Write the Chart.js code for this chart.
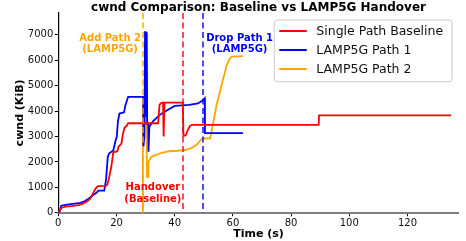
<!DOCTYPE html>
<html><head><meta charset="utf-8">
<script src="https://cdn.jsdelivr.net/npm/chart.js@4/dist/chart.umd.min.js"></script>
<style>html,body{margin:0;padding:0;background:#fff}#wrap{width:466px;height:241px}</style>
</head><body><div id="wrap"><canvas id="c" width="466" height="241"></canvas></div>
<script>
// ---- data ----
const baseTime = [0, 0.4, 1.2, 2.5, 5, 7, 8.5, 10, 11, 12, 12.8, 13.6, 16.3, 16.8, 17.3, 18.2, 18.9, 20.3, 20.7, 21.7, 22.2, 22.8, 23.5, 24.0, 34.3, 34.8, 35.5, 36.0, 36.2, 36.5, 42.8, 43.0, 43.8, 44.5, 45.3, 46.0, 89.5, 89.6, 135];
const baseCwnd = [0, 80, 200, 240, 270, 300, 360, 450, 560, 780, 950, 1050, 1060, 1100, 1300, 1800, 2380, 2420, 2600, 2720, 3100, 3350, 3420, 3520, 3520, 4250, 4330, 4330, 3000, 4330, 4330, 3020, 3050, 3250, 3420, 3460, 3460, 3830, 3830];

const p1Time = [0, 0.5, 1.0, 3, 5, 7.5, 9, 10.5, 12, 13.2, 13.8, 15.8, 16.4, 17.0, 17.5, 18.9, 19.6, 20.1, 20.5, 21.0, 22.6, 23.0, 24.0, 29.2, 29.25, 29.6, 29.8, 29.95, 30.1, 30.25, 30.4, 30.55, 30.9, 31.0, 31.3, 32.5, 34.9, 37.7, 40, 45, 48, 49.8, 50.3, 50.4, 63.5];
const p1Cwnd = [0, 60, 280, 320, 350, 390, 450, 560, 700, 800, 870, 870, 1300, 2200, 2340, 2450, 2800, 3000, 3600, 3900, 3950, 4200, 4560, 4560, 2600, 3000, 7140, 3800, 7140, 3800, 7100, 3500, 3500, 2400, 3380, 3600, 3850, 4050, 4200, 4240, 4300, 4430, 4500, 3130, 3130];

const p2Time = [29.0, 29.05, 29.3, 29.5, 29.7, 29.9, 30.2, 30.3, 30.4, 30.5, 30.6, 30.7, 30.8, 30.9, 31.0, 32, 35, 38, 41, 44, 46, 47.6, 49.3, 49.8, 52.2, 53.3, 54.4, 56.1, 57.9, 59, 59.6, 63.5];
const p2Cwnd = [0, 4300, 3900, 4400, 3800, 4300, 4000, 5800, 3000, 1400, 1900, 1400, 1800, 1420, 2000, 2200, 2340, 2420, 2440, 2470, 2560, 2680, 2900, 2920, 2930, 3580, 4240, 5020, 5810, 6070, 6136, 6160];

const xTicks = [0, 20, 40, 60, 80, 100, 120];
const yTicks = [0, 1000, 2000, 3000, 4000, 5000, 6000, 7000];
const seriesNames = ['Single Path Baseline', 'LAMP5G Path 1', 'LAMP5G Path 2'];
const seriesColors = ['#ff0000', '#0000ff', '#ffa500'];
const eventTimes = [29.0, 42.7, 49.7];
const eventColors = ['#ffa500', '#ff0000', '#0000ff'];
const eventLabels = [['Add Path 2', '(LAMP5G)'], ['Handover', '(Baseline)'], ['Drop Path 1', '(LAMP5G)']];
const chartTitle = 'cwnd Comparison: Baseline vs LAMP5G Handover';

const FONT = '"DejaVu Sans", sans-serif';
const pts = (t, v) => t.map((tt, i) => ({x: tt, y: v[i]}));

const overlay = {
  id: 'overlay',
  afterDatasetsDraw(chart, args, o) {
    const {ctx, chartArea: a, scales: {x, y}} = chart;
    ctx.save();
    // event lines (dashed, drawn as explicit dash segments)
    ctx.lineWidth = 2; ctx.lineCap = 'butt'; ctx.globalAlpha = 0.7;
    eventTimes.forEach((t, i) => {
      const px = Math.round(x.getPixelForValue(t)) + 0;
      ctx.strokeStyle = eventColors[i];
      ctx.beginPath();
      for (let yy = a.top; yy < a.bottom; yy += o.dash[0] + o.dash[1]) {
        ctx.moveTo(px, yy); ctx.lineTo(px, Math.min(yy + o.dash[0], a.bottom));
      }
      ctx.stroke();
    });
    ctx.globalAlpha = 1;
    // event notes
    ctx.font = 'bold 10px ' + FONT; ctx.textAlign = 'center'; ctx.textBaseline = 'middle';
    o.notes.forEach((n, i) => {
      const cx = x.getPixelForValue(n.t), cy = y.getPixelForValue(n.v);
      ctx.fillStyle = eventColors[i];
      const lines = eventLabels[i];
      lines.forEach((s, k) => ctx.fillText(s, cx, cy + (k - (lines.length - 1) / 2) * 11.5));
    });
    // legend
    const L = o.legend;
    const lx = a.right - L.right - L.w, ly = a.top + L.top;
    ctx.beginPath();
    if (ctx.roundRect) ctx.roundRect(lx, ly, L.w, L.h, 3); else ctx.rect(lx, ly, L.w, L.h);
    ctx.fillStyle = 'rgba(255,255,255,0.8)'; ctx.fill();
    ctx.strokeStyle = '#cccccc'; ctx.lineWidth = 1; ctx.stroke();
    ctx.font = '12.5px ' + FONT; ctx.textAlign = 'left'; ctx.textBaseline = 'middle';
    seriesNames.forEach((s, i) => {
      const ry = ly + L.row0 + i * L.rowGap;
      ctx.strokeStyle = seriesColors[i]; ctx.lineWidth = 2;
      ctx.beginPath(); ctx.moveTo(lx + 5, ry); ctx.lineTo(lx + 32.5, ry); ctx.stroke();
      ctx.fillStyle = '#111'; ctx.fillText(s, lx + 42, ry + 0.5);
    });
    // title
    ctx.font = 'bold 12px ' + FONT; ctx.textAlign = 'center'; ctx.textBaseline = 'alphabetic';
    ctx.fillStyle = '#000';
    ctx.fillText(chartTitle, (a.left + a.right) / 2, a.top - o.titleGap);
    ctx.restore();
  }
};

new Chart(document.getElementById('c'), {
  type: 'line',
  data: {
    datasets: [
      {label: seriesNames[0], data: pts(baseTime, baseCwnd), borderColor: seriesColors[0]},
      {label: seriesNames[1], data: pts(p1Time, p1Cwnd), borderColor: seriesColors[1]},
      {label: seriesNames[2], data: pts(p2Time, p2Cwnd), borderColor: seriesColors[2]}
    ]
  },
  options: {
    responsive: false, animation: false,
    datasets: {line: {borderWidth: 1.8, pointRadius: 0, tension: 0, fill: false}},
    layout: {padding: {left: 0, right: 7.3, top: 13, bottom: 0}},
    plugins: {
      legend: {display: false}, tooltip: {enabled: false}, title: {display: false},
      overlay: {
        notes: [{t: 17.8, v: 6635}, {t: 32.5, v: 770}, {t: 62.3, v: 6635}],
        legend: {right: 6.7, top: 7, w: 177.7, h: 61.7, row0: 11, rowGap: 19},
        titleGap: 2.3,
        dash: [6, 3.5]
      }
    },
    scales: {
      x: {type: 'linear', min: 0, max: 137.6,
        afterBuildTicks: s => { s.ticks = xTicks.map(v => ({value: v})); },
        afterFit: s => { s.height = 28.2; },
        ticks: {font: {family: FONT, size: 10}, color: '#111', padding: 1, maxRotation: 0, callback: v => String(v)},
        grid: {display: true, drawOnChartArea: false, drawTicks: true, tickLength: 3.5, color: '#000', tickWidth: 1},
        border: {display: true, color: '#808080', width: 2},
        title: {display: true, text: 'Time (s)', color: '#000', font: {family: FONT, size: 11, weight: 'bold', lineHeight: 1.2}, padding: {top: 0, bottom: 0}}
      },
      y: {min: 0, max: 7854,
        afterBuildTicks: s => { s.ticks = yTicks.map(v => ({value: v})); },
        afterFit: s => { s.width = 58.3; },
        ticks: {font: {family: FONT, size: 10}, color: '#111', padding: 1.5, callback: v => String(v)},
        grid: {display: true, drawOnChartArea: false, drawTicks: true, tickLength: 3.5, color: '#000', tickWidth: 1},
        border: {display: true, color: '#000', width: 1.2},
        title: {display: true, text: 'cwnd (KiB)', color: '#000', font: {family: FONT, size: 11, weight: 'bold', lineHeight: 1.2}, padding: {top: 13.4, bottom: 0}}
      }
    }
  },
  plugins: [overlay]
});
</script></body></html>
